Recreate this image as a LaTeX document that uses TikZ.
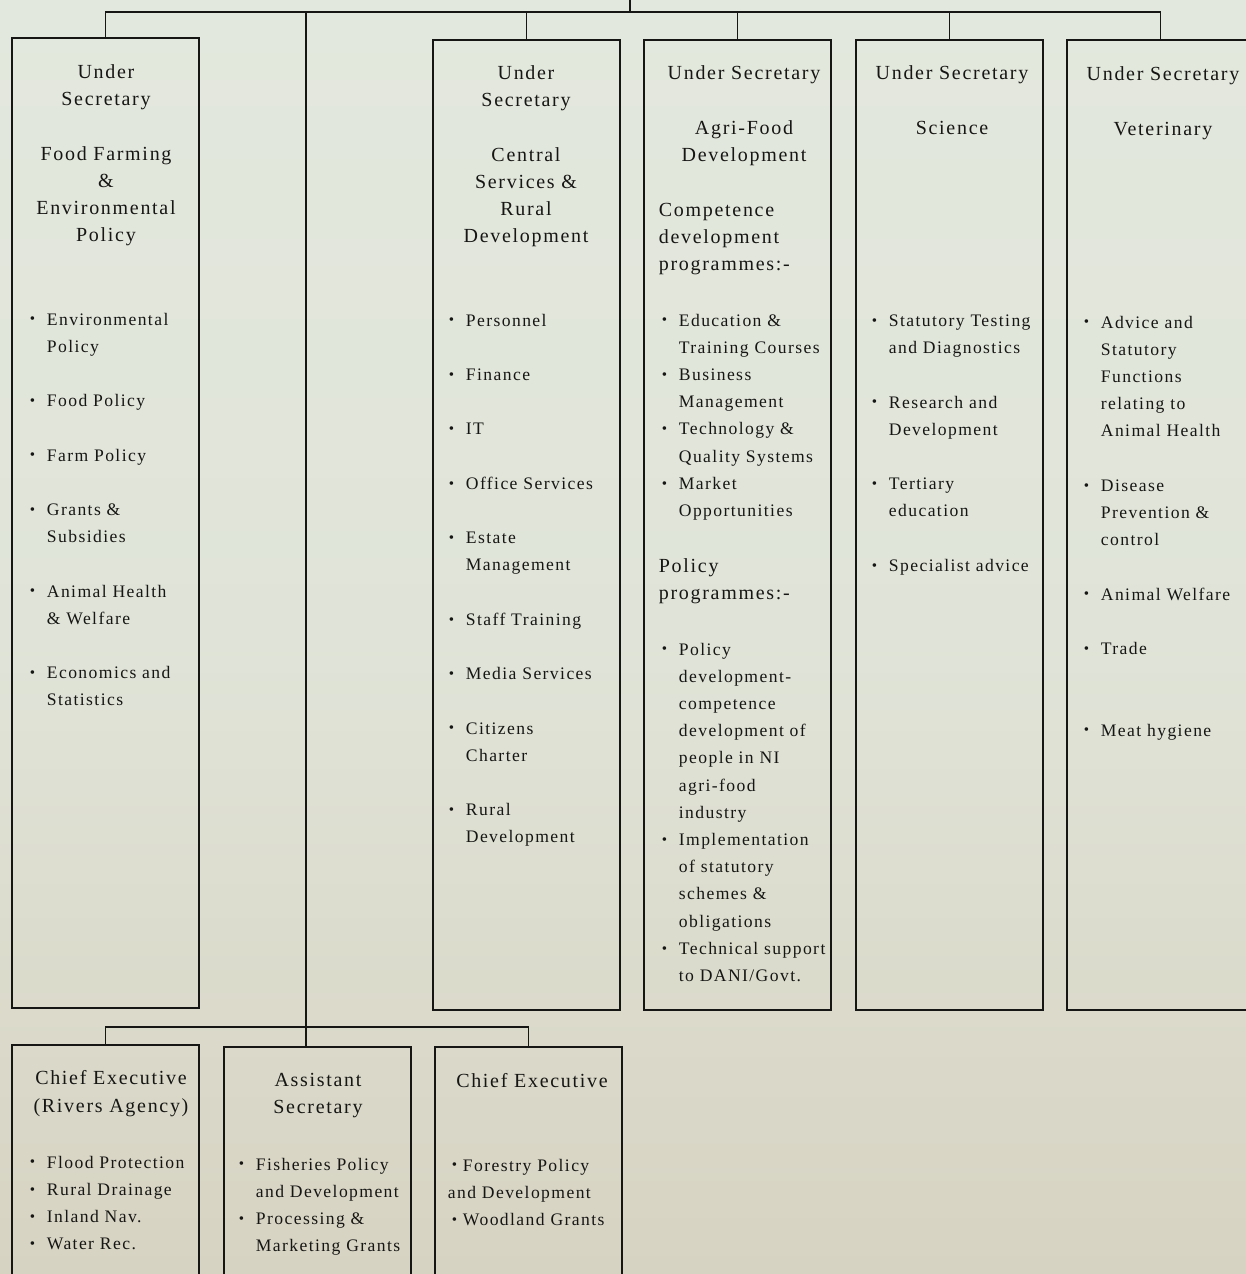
\documentclass[tikz,border=0pt]{standalone}
\usepackage{fontspec}
\setmainfont{Liberation Serif}
\newfontfamily\kopletter{Liberation Serif}[LetterSpace=8.5]
\newfontfamily\lijstletter{Liberation Serif}[LetterSpace=8]

\definecolor{inkt}{RGB}{22,22,20}
\definecolor{papierboven}{RGB}{227,232,222}
\definecolor{papiermidden}{RGB}{224,228,216}
\definecolor{papieronder}{RGB}{215,211,194}

\newcommand{\kopfont}{\kopletter\fontsize{10}{13.6}\selectfont}
\newcommand{\lijstfont}{\lijstletter\fontsize{8.8}{13.6}\selectfont}
\newcommand{\stip}{\raisebox{0.6pt}{\fontsize{7.5}{8}\selectfont\textbullet}}
\newcommand{\bul}{\makebox[8.5pt][l]{\stip}}
\newcommand{\inz}{\hspace*{8.5pt}}
\newcommand{\wit}{\\[13.6pt]}

\begin{document}
\begin{tikzpicture}[x=0.5pt, y=-0.5pt, line width=0.9pt,
    doos/.style={draw=inkt, minimum width=93.5pt, inner sep=0pt, outer sep=0pt, anchor=north west},
    kop/.style={font=\kopfont, text=inkt, align=center, inner sep=0pt, anchor=north},
    lijst/.style={font=\lijstfont, text=inkt, align=left, inner sep=0pt, anchor=north west}]

    % Papier als achtergrond
    \useasboundingbox (0,0) rectangle (1246,1274);
    \clip (0,0) rectangle (1246,1274);
    \shade[top color=papierboven, bottom color=papieronder, middle color=papiermidden] (0,0) rectangle (1246,1274);

    % Teken de vakken (bovenste rij)
    \node[doos, minimum height=485pt] (fod) at (12,38) {};   % Food Farming
    \node[doos, minimum height=485pt] (crd) at (433,40) {};  % Central Services
    \node[doos, minimum height=485pt] (afd) at (644,40) {};  % Agri-Food
    \node[doos, minimum height=485pt] (sci) at (856,40) {};  % Science
    \node[doos, minimum height=485pt] (vet) at (1067,40) {}; % Veterinary

    % Teken de vakken (onderste rij)
    \node[doos, minimum height=130pt] (riv) at (12,1045) {};  % Rivers Agency
    \node[doos, minimum height=130pt] (asec) at (224,1047) {}; % Assistant Secretary
    \node[doos, minimum height=130pt] (bos) at (435,1047) {};  % Forestry

    % Definieer de knooppunten van de lijnen
    \coordinate (top) at (630,0);
    \coordinate (balk) at (630,12);
    \coordinate (stam) at (306,12);
    \coordinate (onder) at (306,1027);

    % Teken de verbindingen
    \draw[inkt] (top) -- (balk);
    \draw[inkt] (fod.north) -- (fod.north |- balk) -- (vet.north |- balk) -- (vet.north);
    \foreach \d in {crd,afd,sci} \draw[inkt] (\d.north) -- (\d.north |- balk);
    \draw[inkt] (stam) -- (stam |- asec.north); % stam naar beneden
    \draw[inkt] (riv.north) -- (riv.north |- onder) -- (bos.north |- onder) -- (bos.north);

    % Teksten van Food Farming
    \node[kop] (fodkop) at (106,64) {Under\\Secretary\wit Food Farming\\\&\\Environmental\\Policy};
    \node[lijst] (fodlijst) at (29,312) {\bul Environmental\\\inz Policy\wit \bul Food Policy\wit \bul Farm Policy\wit
        \bul Grants \&\\\inz Subsidies\wit \bul Animal Health\\\inz \& Welfare\wit \bul Economics and\\\inz Statistics};

    % Teksten van Central Services
    \node[kop] (crdkop) at (526,65) {Under\\Secretary\wit Central\\Services \&\\Rural\\Development};
    \node[lijst] (crdlijst) at (448,313) {\bul Personnel\wit \bul Finance\wit \bul IT\wit \bul Office Services\wit
        \bul Estate\\\inz Management\wit \bul Staff Training\wit \bul Media Services\wit
        \bul Citizens\\\inz Charter\wit \bul Rural\\\inz Development};

    % Teksten van Agri-Food
    \node[kop] (afdkop) at (744,65) {Under Secretary\wit Agri-Food\\Development};
    \node[kop, align=left, anchor=north west] (afdcomp) at (658,202) {Competence\\development\\programmes:-};
    \node[lijst] (afdlijst1) at (661,313) {\bul Education \&\\\inz Training Courses\\\bul Business\\\inz Management\\
        \bul Technology \&\\\inz Quality Systems\\\bul Market\\\inz Opportunities};
    \node[kop, align=left, anchor=north west] (afdpol) at (658,558) {Policy\\programmes:-};
    \node[lijst] (afdlijst2) at (661,642) {\bul Policy\\\inz development-\\\inz competence\\\inz development of\\
        \inz people in NI\\\inz agri-food\\\inz industry\\\bul Implementation\\\inz of statutory\\\inz schemes \&\\
        \inz obligations\\\bul Technical support\\\inz to DANI/Govt.};

    % Teksten van Science
    \node[kop] (scikop) at (952,65) {Under Secretary\wit Science};
    \node[lijst] (scilijst) at (871,314) {\bul Statutory Testing\\\inz and Diagnostics\wit \bul Research and\\\inz Development\wit
        \bul Tertiary\\\inz education\wit \bul Specialist advice};

    % Teksten van Veterinary
    \node[kop] (vetkop) at (1163,66) {Under Secretary\wit Veterinary};
    \node[lijst] (vetlijst) at (1083,315) {\bul Advice and\\\inz Statutory\\\inz Functions\\\inz relating to\\\inz Animal Health\wit
        \bul Disease\\\inz Prevention \&\\\inz control\wit \bul Animal Welfare\wit \bul Trade\\[27.2pt] \bul Meat hygiene};

    % Teksten van de onderste rij
    \node[kop] (rivkop) at (111,1070) {Chief Executive\\(Rivers Agency)};
    \node[lijst] (rivlijst) at (29,1155) {\bul Flood Protection\\\bul Rural Drainage\\\bul Inland Nav.\\\bul Water Rec.};
    \node[kop] (aseckop) at (318,1072) {Assistant\\Secretary};
    \node[lijst] (aseclijst) at (238,1157) {\bul Fisheries Policy\\\inz and Development\\\bul Processing \&\\\inz Marketing Grants};
    \node[kop] (boskop) at (532,1073) {Chief Executive};
    \node[lijst] (boslijst) at (447,1158) {\hspace*{2pt}\stip\ Forestry Policy\\and Development\\\hspace*{2pt}\stip\ Woodland Grants};

\end{tikzpicture}
\end{document}
